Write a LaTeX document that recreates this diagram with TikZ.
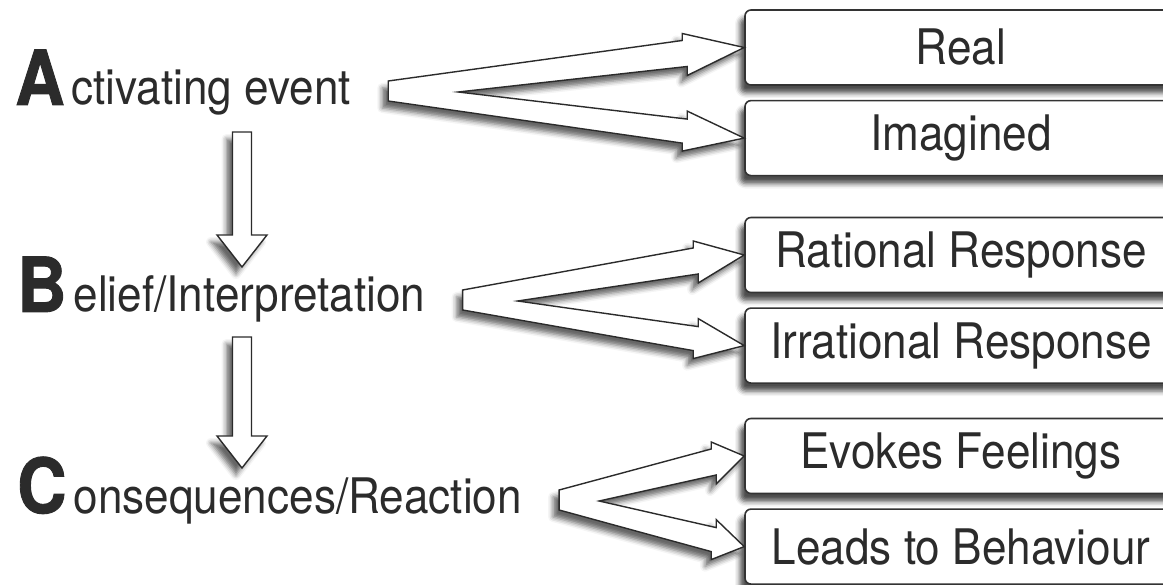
\documentclass[tikz,border=0pt]{standalone}
\usepackage{fontspec}
\setmainfont[FakeStretch=0.9]{TeX Gyre Heros}
\newfontfamily\stagefont[FakeStretch=0.9,FakeBold=1.2]{TeX Gyre Heros}
\usetikzlibrary{positioning,calc,shadows.blur}
\definecolor{inkgray}{HTML}{2B2B2B}
\definecolor{edgegray}{HTML}{333333}

\newcommand{\stageletter}[1]{{\stagefont\bfseries\fontsize{76}{76}\selectfont #1}\kern7pt}
\newcommand{\forkarrow}[5]{%
  \draw[blockarrow] ($(#1)+(0,-10)$) -- ($(#2)+(-#4,-7)$) -- ($(#2)+(-#4,-14)$) -- (#2)
    -- ($(#2)+(-#4+5,28)$) -- ($(#2)+(-#4+5,19)$) -- ($(#1)+(#5,1)$)
    -- ($(#3)+(-#4+5,-19)$) -- ($(#3)+(-#4+5,-27)$) -- (#3)
    -- ($(#3)+(-#4,13)$) -- ($(#3)+(-#4,5)$) -- ($(#1)+(0,10)$) -- cycle;}
\newcommand{\dropArrow}[2]{%
  \draw[blockarrow] ($(#1)+(-9.5,0)$) -- ($(#2)+(-9.5,-32)$) -- ($(#2)+(-25,-32)$) -- (#2)
    -- ($(#2)+(25,-32)$) -- ($(#2)+(9.5,-32)$) -- ($(#1)+(9.5,0)$) -- cycle;}

\begin{document}
\begin{tikzpicture}[x=1pt, y=-1pt, node distance=14pt,
    stage/.style={anchor=base west, inner sep=0pt, text=inkgray,
      font=\fontsize{49}{58}\selectfont},
    answer/.style={draw=edgegray, line width=1.6pt, fill=white, rounded corners=6pt,
      minimum width=432pt, minimum height=75pt, inner sep=0pt, text=inkgray,
      font=\fontsize{49}{58}\selectfont,
      blur shadow={shadow xshift=-5pt, shadow yshift=-8pt, shadow blur radius=5pt, shadow opacity=70}},
    blockarrow/.style={draw=inkgray, line width=1.4pt, fill=white, line join=miter,
      blur shadow={shadow xshift=-6pt, shadow yshift=-7pt, shadow blur radius=5pt, shadow opacity=60}}]

  \useasboundingbox (0,0) rectangle (1163,585);

  \node[stage] (actA) at (15,105) {\stageletter{A}ctivating event};
  \node[stage] (actB) at (17,312) {\stageletter{B}elief/Interpretation};
  \node[stage] (actC) at (17,513) {\stageletter{C}onsequences/Reaction};

  \node[answer] (real) at (961,47.5) {Real};
  \node[answer, below=of real] (imagined) {Imagined};
  \node[answer] (rational) at (961,255) {Rational Response};
  \node[answer, below=of rational] (irrational) {Irrational Response};
  \node[answer] (feelings) at (961,456) {Evokes Feelings};
  \node[answer, below=of feelings] (behaviour) {Leads to Behaviour};

  \coordinate (forkA) at ($(actA.base east)+(37,-14)$);
  \coordinate (forkB) at ($(actB.base east)+(37,-12)$);
  \coordinate (forkC) at ($(actC.base east)+(37,-13)$);
  \forkarrow{forkA}{real.west}{imagined.west}{62}{70}
  \forkarrow{forkB}{rational.west}{irrational.west}{51}{55}
  \forkarrow{forkC}{feelings.west}{behaviour.west}{33}{40}

  \coordinate (dropA) at ($(actA.base west)+(227,27)$);
  \coordinate (tipB) at ($(actB.base west)+(225,-45)$);
  \coordinate (dropB) at ($(actB.base west)+(225,25)$);
  \coordinate (tipC) at ($(actC.base west)+(225,-45)$);
  \dropArrow{dropA}{tipB}
  \dropArrow{dropB}{tipC}

\end{tikzpicture}
\end{document}
